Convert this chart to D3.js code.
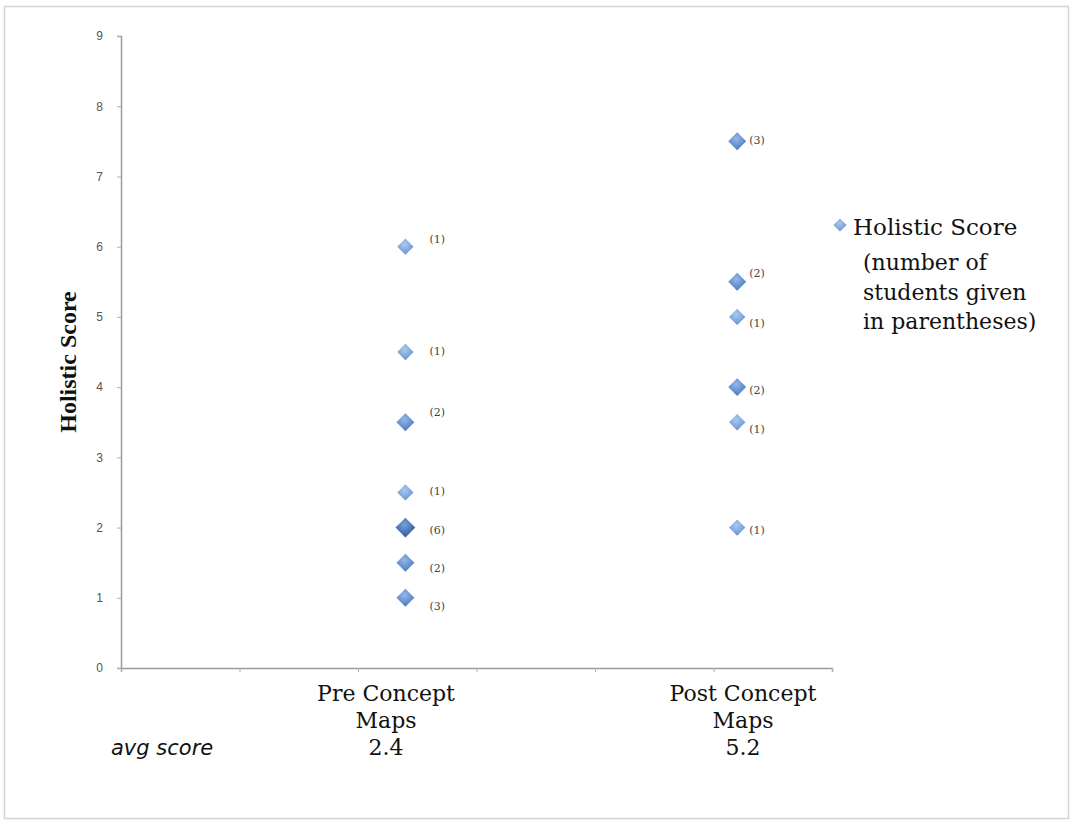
<!DOCTYPE html>
<html><head><meta charset="utf-8">
<script src="https://cdn.jsdelivr.net/npm/d3@7"></script>
<style>body{margin:0;background:#fff}</style>
</head><body>
<svg id="c" width="1070" height="822"></svg>
<script>
// Data
const groups = ["Pre Concept Maps", "Post Concept Maps"];
const groupX = [2.4, 5.2];            // points sit at x = average score
const avgScores = ["2.4", "5.2"];
const preScores = [6, 4.5, 3.5, 2.5, 2, 1.5, 1];
const preCounts = [1, 1, 2, 1, 6, 2, 3];
const postScores = [7.5, 5.5, 5, 4, 3.5, 2];
const postCounts = [3, 2, 1, 2, 1, 1];
const yTicks = [0, 1, 2, 3, 4, 5, 6, 7, 8, 9];
const xTicks = [0, 1, 2, 3, 4, 5, 6];
// label layout offsets (px), separate from data
const preLabelDy = [-7, 0, -9, 0, 3, 6, 9];
const postLabelDy = [0, -8, 7, 4, 8, 3];
const labelDx = [24, 12];

const SERIF = "DejaVu Serif, serif";
const svg = d3.select("#c");
svg.append("rect").attr("x", 4.5).attr("y", 6.5).attr("width", 1064).attr("height", 812)
  .attr("fill", "#fff").attr("stroke", "#d4d4d4").attr("stroke-width", 1.5);

const x = d3.scaleLinear().domain([0, 6]).range([121, 832]);
const y = d3.scaleLinear().domain([0, 9]).range([668, 36]);

const defs = svg.append("defs");
function grad(id, c1, c2, c3) {
  const g = defs.append("radialGradient").attr("id", id).attr("cx", "45%").attr("cy", "35%").attr("r", "70%");
  g.append("stop").attr("offset", "0%").attr("stop-color", c1);
  g.append("stop").attr("offset", "55%").attr("stop-color", c2);
  g.append("stop").attr("offset", "100%").attr("stop-color", c3);
}
grad("g1", "#aac8ee", "#82aadf", "#5f8ac4");
grad("g2", "#94b7e6", "#6893d2", "#4772b2");
grad("g3", "#7aa0d8", "#4a76ba", "#2d5290");

// axes
const yAxis = d3.axisLeft(y).tickValues(yTicks).tickSize(4).tickPadding(14);
const gy = svg.append("g").attr("transform", "translate(121,0)").call(yAxis);
const xAxis = d3.axisBottom(x).tickValues(xTicks).tickSize(4).tickFormat("");
const gx = svg.append("g").attr("transform", "translate(0,668)").call(xAxis);
[gy, gx].forEach(g => {
  g.select(".domain").attr("stroke", "#9a9a9a").attr("stroke-width", 1.5);
  g.selectAll(".tick line").attr("stroke", "#b0b0b0");
  g.selectAll("text").attr("fill", "#555").attr("font-size", 12).attr("font-family", "Liberation Sans, Arial, sans-serif");
});

// y title
svg.append("text").attr("transform", "translate(76,362) rotate(-90)")
  .attr("text-anchor", "middle").attr("font-family", "Liberation Serif, serif")
  .attr("font-weight", "bold").attr("font-size", 24).attr("fill", "#111").text("Holistic Score");

// points
const sym = d3.symbol().type(d3.symbolDiamond2);
function drawSeries(xv, scores, counts, dys, dx) {
  scores.forEach((s, i) => {
    const c = counts[i];
    const sz = c >= 6 ? 250 : (c >= 2 ? 205 : 170);
    const gid = c >= 6 ? "g3" : (c >= 2 ? "g2" : "g1");
    svg.append("path").attr("d", sym.size(sz)())
      .attr("transform", `translate(${x(xv)},${y(s)})`)
      .attr("fill", `url(#${gid})`);
    svg.append("text").attr("x", x(xv) + dx).attr("y", y(s) + dys[i])
      .attr("dominant-baseline", "middle").attr("font-family", SERIF)
      .attr("font-size", 11).attr("fill", "#444").text(`(${c})`);
  });
}
drawSeries(groupX[0], preScores, preCounts, preLabelDy, labelDx[0]);
drawSeries(groupX[1], postScores, postCounts, postLabelDy, labelDx[1]);

// category labels
const catCx = [386, 743];
groups.forEach((g, i) => {
  const words = g.replace(" Maps", "");
  const t = svg.append("text").attr("text-anchor", "middle").attr("font-family", SERIF)
    .attr("font-size", 22).attr("fill", "#111");
  t.append("tspan").attr("x", catCx[i]).attr("y", 701).text(words);
  t.append("tspan").attr("x", catCx[i]).attr("y", 728).text("Maps");
  t.append("tspan").attr("x", catCx[i]).attr("y", 755).text(avgScores[i]);
});
svg.append("text").attr("x", 111).attr("y", 755).attr("font-family", "DejaVu Sans, Verdana, sans-serif")
  .attr("font-style", "italic").attr("font-size", 21).attr("fill", "#111").text("avg score");

// legend
svg.append("path").attr("d", d3.symbol().type(d3.symbolDiamond2).size(110)())
  .attr("transform", "translate(840,225)").attr("fill", "url(#g1)");
svg.append("text").attr("x", 853).attr("y", 235).attr("font-family", SERIF)
  .attr("font-size", 23).attr("fill", "#111").text("Holistic Score");
const lt = svg.append("text").attr("font-family", SERIF).attr("font-size", 22).attr("fill", "#111");
["(number of", "students given", "in parentheses)"].forEach((s, i) =>
  lt.append("tspan").attr("x", 863).attr("y", 270 + i * 29.5).text(s));
</script>
</body></html>
